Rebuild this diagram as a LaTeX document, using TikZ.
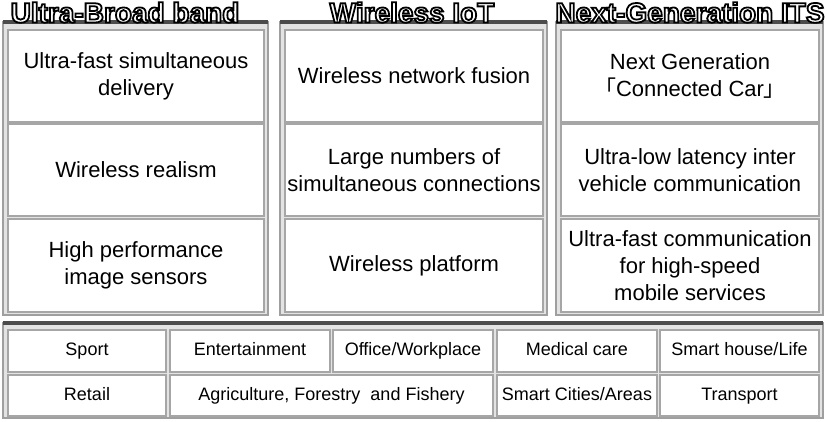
\documentclass[tikz,border=0pt]{standalone}
\usepackage{fontspec}
\setmainfont{Liberation Sans}
\newfontfamily\cjk{Noto Sans CJK SC}
\newcommand{\outlined}[1]{{\color{white}\special{pdf:literal direct 2 Tr 1.8 w 0 G}#1\special{pdf:literal direct 0 Tr 0.4 w}}}
\usetikzlibrary{positioning}
\tikzset{
  panel/.style={draw=gray!75, fill=gray!22, line width=1.2pt},
  topbar/.style={line width=4pt, black!70},
  cell/.style={rectangle, draw=gray!70, fill=white, line width=1.2pt,
               inner sep=0pt, align=center, font=\fontsize{22}{27}\selectfont},
  tcell/.style={cell, font=\fontsize{18}{21}\selectfont, text height=13pt, text depth=4pt},
  ptitle/.style={font=\fontsize{28}{30}\selectfont\bfseries, inner sep=0pt, anchor=base},
}

\begin{document}
\begin{tikzpicture}[x=1pt, y=-1pt]
  \useasboundingbox (0,0) rectangle (827,421);
  % panels
  \draw[panel] (3,22) rectangle (268,315);
  \draw[panel] (280,22) rectangle (547,315);
  \draw[panel] (556,22) rectangle (823,315);
  \draw[panel] (3,323) rectangle (823,418);
  \draw[topbar] (3,22)--(268,22);
  \draw[topbar] (280,22)--(547,22);
  \draw[topbar] (556,22)--(823,22);
  \draw[topbar] (3,323)--(823,323);
  % titles
  \node[ptitle] (tub) at (125,22.5) {\outlined{Ultra-Broad band}};
  \node[ptitle] (tiot) at (412,22.5) {\outlined{Wireless IoT}};
  \node[ptitle] (tits) at (690,22.5) {\outlined{Next-Generation ITS}};
  % Ultra-Broad band
  \node[cell, minimum width=256, minimum height=92] (ub1) at (136,76) {Ultra-fast simultaneous\\delivery};
  \node[cell, minimum width=256, minimum height=92] (ub2) at (136,170) {Wireless realism};
  \node[cell, minimum width=256, minimum height=93] (ub3) at (136,265.5) {High performance\\image sensors};
  % Wireless IoT
  \node[cell, minimum width=258, minimum height=92] (iot1) at (414,76) {Wireless network fusion};
  \node[cell, minimum width=258, minimum height=92] (iot2) at (414,170) {Large numbers of\\simultaneous connections};
  \node[cell, minimum width=258, minimum height=93] (iot3) at (414,265.5) {Wireless platform};
  % Next-Generation ITS
  \node[cell, minimum width=258, minimum height=92] (its1) at (690,76) {Next Generation\\{\cjk 「}Connected Car{\cjk 」}};
  \node[cell, minimum width=258, minimum height=92] (its2) at (690,170) {Ultra-low latency inter\\vehicle communication};
  \node[cell, minimum width=258, minimum height=93] (its3) at (690,265.5) {Ultra-fast communication\\for high-speed\\mobile services};
  % application fields
  \node[tcell, minimum width=158, minimum height=42] (sport) at (87,351) {Sport};
  \node[tcell, minimum width=160, minimum height=42] (ent) at (250,351) {Entertainment};
  \node[tcell, minimum width=160, minimum height=42] (office) at (413,351) {Office/Workplace};
  \node[tcell, minimum width=160, minimum height=42] (med) at (577,351) {Medical care};
  \node[tcell, minimum width=159, minimum height=42] (house) at (739.5,351) {Smart house/Life};
  \node[tcell, minimum width=158, minimum height=41] (retail) at (87,395.5) {Retail};
  \node[tcell, minimum width=323, minimum height=41] (agri) at (331.5,395.5) {Agriculture, Forestry\ \ and Fishery};
  \node[tcell, minimum width=160, minimum height=41] (city) at (577,395.5) {Smart Cities/Areas};
  \node[tcell, minimum width=159, minimum height=41] (trans) at (739.5,395.5) {Transport};
\end{tikzpicture}
\end{document}
